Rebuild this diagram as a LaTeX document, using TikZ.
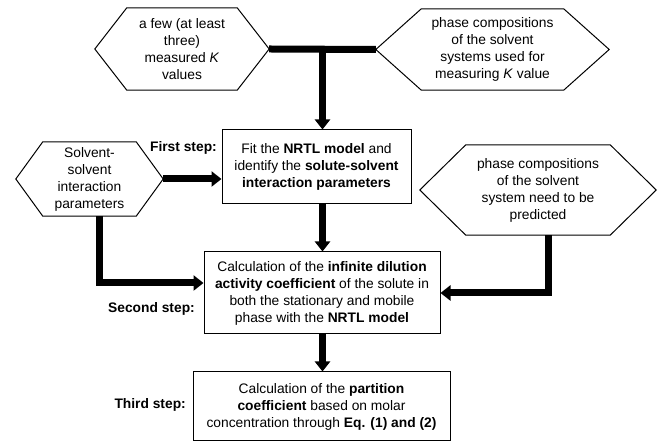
\documentclass[tikz,border=0pt]{standalone}
\usepackage{fontspec}
\setmainfont{Liberation Sans}
\usetikzlibrary{arrows.meta,calc}

\begin{document}
\begin{tikzpicture}[x=1pt, y=1pt, font=\fontsize{13.8}{17}\selectfont]
\tikzset{every node/.style={align=center, inner sep=0pt},
         stepbox/.style={draw, line width=1pt},
         hexline/.style={line width=1pt, line join=miter},
         flow/.style={line width=7pt, -{Triangle[width=15pt,length=10pt]}},
         steplabel/.style={anchor=east, font=\fontsize{13.8}{17}\selectfont\bfseries}}
\useasboundingbox (0,0) rectangle (662,443);

\node(box1) [stepbox, minimum width=189pt, minimum height=74pt] at (316.5,276)
  {Fit the \textbf{NRTL model} and \\
   identify the \textbf{solute-solvent} \\
   \textbf{interaction parameters}};

\node(box2) [stepbox, minimum width=236pt, minimum height=82pt] at (322,150)
  {Calculation of the \textbf{infinite dilution} \\
   \textbf{activity coefficient} of the solute in \\
   both the stationary and mobile \\
   phase with the \textbf{NRTL model}};

\node(box3) [stepbox, minimum width=257pt, minimum height=69pt] at (321.5,36.5)
  {Calculation of the \textbf{partition} \\
   \textbf{coefficient} based on molar \\
   concentration through \textbf{Eq. (1) and (2)}};

\node(step1) [steplabel] at (217,295) {First step:};
\node(step2) [steplabel] at (195,134) {Second step:};
\node(step3) [steplabel] at (186,38) {Third step:};

\node(kval) [minimum width=110pt, minimum height=82pt] at (182,394)
  {a few (at least \\ three) \\ measured \textit{K} \\ values};
\coordinate (kval-l) at ([xshift=-32pt]kval.west);
\coordinate (kval-r) at ([xshift=32pt]kval.east);
\draw[hexline] (kval.north west) -- (kval.north east) -- (kval-r)
  -- (kval.south east) -- (kval.south west) -- (kval-l) -- cycle;

\node(comp) [minimum width=142pt, minimum height=81pt] at (492.5,393.5)
  {phase compositions \\ of the solvent \\ systems used for \\ measuring \textit{K} value};
\coordinate (comp-l) at ([xshift=-45.5pt]comp.west);
\coordinate (comp-r) at ([xshift=45.5pt]comp.east);
\draw[hexline] (comp.north west) -- (comp.north east) -- (comp-r)
  -- (comp.south east) -- (comp.south west) -- (comp-l) -- cycle;

\node(solv) [minimum width=93pt, minimum height=74pt] at (89.5,264)
  {Solvent- \\ solvent \\ interaction \\ parameters};
\coordinate (solv-l) at ([xshift=-27pt]solv.west);
\coordinate (solv-r) at ([xshift=27pt]solv.east);
\draw[hexline] (solv.north west) -- (solv.north east) -- (solv-r)
  -- (solv.south east) -- (solv.south west) -- (solv-l) -- cycle;

\node(pred) [minimum width=144pt, minimum height=90pt] at (538,253)
  {phase compositions \\ of the solvent \\ system need to be \\ predicted};
\coordinate (pred-l) at ([xshift=-46pt]pred.west);
\coordinate (pred-r) at ([xshift=46pt]pred.east);
\draw[hexline] (pred.north west) -- (pred.north east) -- (pred-r)
  -- (pred.south east) -- (pred.south west) -- (pred-l) -- cycle;

\coordinate (join) at ($(kval-r)!0.5!(comp-l)$);
\draw[line width=7pt] (kval-r) -- (comp-l);
\draw[flow] (join) -- (join |- box1.north);
\draw[flow] (solv-r) -- (solv-r -| box1.west);
\draw[flow] (box1.south -| join) -- (join |- box2.north);
\draw[flow] ([xshift=10pt]solv.south) |- ([yshift=10pt]box2.west);
\draw[flow] ([xshift=10pt]pred.south) |- (box2.east);
\draw[flow] (box2.south -| join) -- (join |- box3.north);

\end{tikzpicture}
\end{document}
